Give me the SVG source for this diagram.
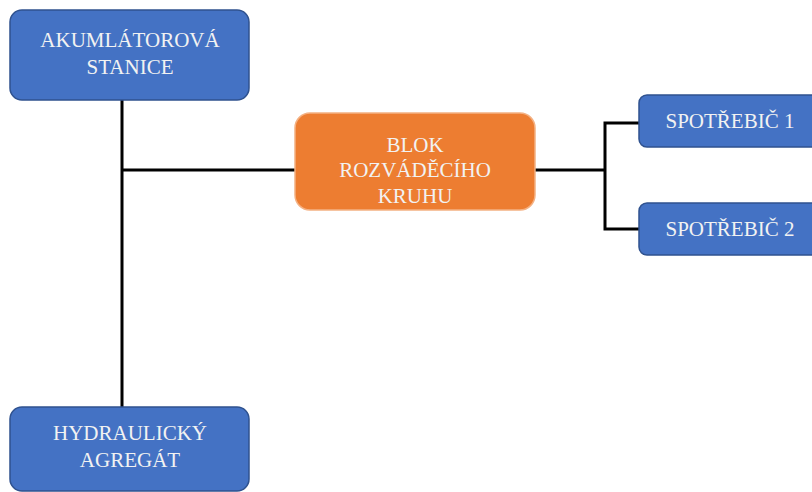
<svg xmlns="http://www.w3.org/2000/svg" width="812" height="492" viewBox="0 0 812 492">
<style>
.blue{fill:#4472C4;stroke:#2F528F;stroke-width:1.5}
.orange{fill:#ED7D31;stroke:#F4B183;stroke-width:1.5}
.t{font-family:'Liberation Serif','DejaVu Serif','Times New Roman',serif;font-size:21px;fill:#F2F2F2;text-anchor:middle}
.c{fill:none;stroke:#000;stroke-width:3}
</style>
<rect width="812" height="492" fill="#fff"/>
<g id="connectors">
<path class="c" d="M122,100 V408"/>
<path class="c" d="M122,170 H295"/>
<path class="c" d="M535,170 H605"/>
<path class="c" d="M640,123 H605 V229 H640"/>
</g>
<g id="akumulatorova">
<rect class="blue" x="10" y="10" width="239" height="90" rx="12"/>
<text class="t" x="130" y="47">AKUMLÁTOROVÁ</text>
<text class="t" x="130" y="74">STANICE</text>
</g>
<g id="blok">
<rect class="orange" x="295" y="113" width="240" height="97" rx="15"/>
<text class="t" x="415" y="152">BLOK</text>
<text class="t" x="415" y="177">ROZVÁDĚCÍHO</text>
<text class="t" x="415" y="203">KRUHU</text>
</g>
<g id="spotrebic1">
<rect class="blue" x="639" y="95" width="190" height="52" rx="8"/>
<text class="t" x="730" y="128">SPOTŘEBIČ 1</text>
</g>
<g id="spotrebic2">
<rect class="blue" x="639" y="203" width="190" height="52" rx="8"/>
<text class="t" x="730" y="236">SPOTŘEBIČ 2</text>
</g>
<g id="hydraulicky">
<rect class="blue" x="10" y="407" width="239" height="84" rx="12"/>
<text class="t" x="130" y="440">HYDRAULICKÝ</text>
<text class="t" x="130" y="467">AGREGÁT</text>
</g>
</svg>
